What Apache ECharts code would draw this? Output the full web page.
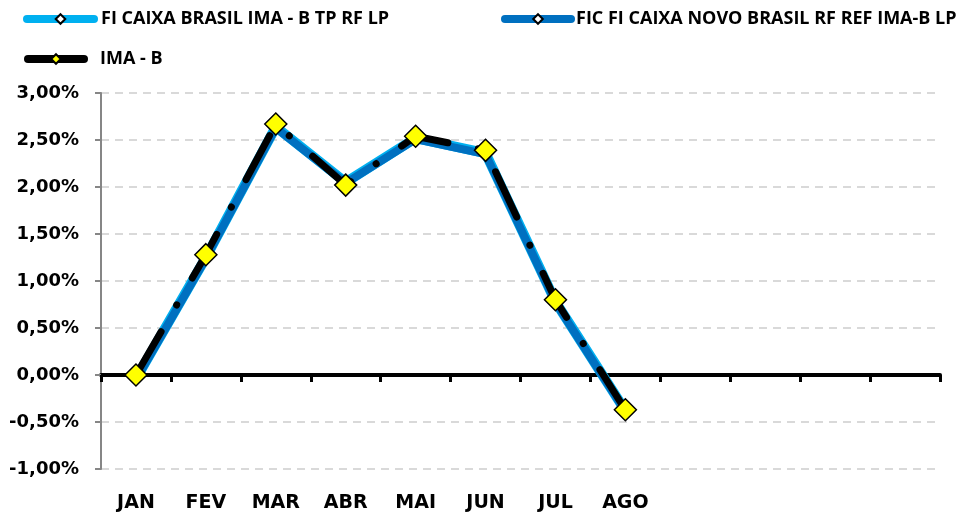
<!DOCTYPE html>
<html>
<head>
    <meta charset="utf-8">
    <title>IMA-B</title>
    <script src="https://cdn.jsdelivr.net/npm/echarts@6/dist/echarts.min.js"></script>
    <style>
        html, body { margin: 0; padding: 0; width: 100%; height: 100%; background: #fff; }
        #chart { width: 964px; height: 515px; }
    </style>
</head>
<body>
    <div id="chart"></div>
    <script>
        // dados (% ao mês)
        const months = ['JAN', 'FEV', 'MAR', 'ABR', 'MAI', 'JUN', 'JUL', 'AGO', 'SET', 'OUT', 'NOV', 'DEZ'];
        const fiCaixaBrasil = [-0.04, 1.25, 2.64, 2.05, 2.52, 2.36, 0.78, -0.38];
        const ficNovoBrasil = [-0.05, 1.24, 2.63, 2.04, 2.51, 2.35, 0.77, -0.39];
        const imaB = [0.00, 1.28, 2.67, 2.02, 2.54, 2.39, 0.80, -0.37];
        const names = ['FI CAIXA BRASIL IMA - B TP RF LP', 'FIC FI CAIXA NOVO BRASIL RF REF IMA-B LP', 'IMA - B'];

        const chart = echarts.init(document.getElementById('chart'), null, { renderer: 'canvas' });

        const font = '"Open Sans", Lato, sans-serif';
        const axisFont = '"DejaVu Sans", "Open Sans", sans-serif';
        const fmt = (v) => v.toFixed(2).replace('.', ',') + '%';
        const legendText = { fontSize: 18, fontWeight: 'bold', color: '#000', fontFamily: font };

        const option = {
            animation: false,
            textStyle: { fontFamily: font },
            legend: [{
                left: 23,
                top: 10,
                padding: 0,
                itemWidth: 67,
                itemHeight: 12,
                data: [{ name: names[0], lineStyle: { width: 8, cap: 'round' } }],
                textStyle: Object.assign({ padding: [0, 0, 0, 2] }, legendText)
            }, {
                left: 501,
                top: 10,
                padding: 0,
                itemWidth: 66,
                itemHeight: 12,
                data: [{ name: names[1], lineStyle: { width: 8, cap: 'round' } }],
                textStyle: legendText
            }, {
                left: 24,
                top: 50,
                padding: 0,
                itemWidth: 56,
                itemHeight: 12,
                data: [{ name: names[2], lineStyle: { width: 8, type: 'solid', cap: 'round' } }],
                textStyle: Object.assign({ padding: [0, 0, 0, 11] }, legendText)
            }],
            grid: { left: 101, right: 24, top: 93, bottom: 46, containLabel: false, outerBoundsMode: 'none' },
            xAxis: [{
                type: 'category',
                data: months,
                boundaryGap: true,
                axisLine: { onZero: true, lineStyle: { color: '#000', width: 4 } },
                axisTick: { show: true, length: 7, lineStyle: { color: '#000', width: 3 } },
                axisLabel: { show: false },
                splitLine: { show: false }
            }, {
                // rótulos dos meses no rodapé
                type: 'category',
                data: months,
                position: 'bottom',
                boundaryGap: true,
                axisLine: { show: false, onZero: false },
                axisTick: { show: false },
                axisLabel: {
                    margin: 25,
                    color: '#000',
                    fontSize: 19,
                    fontWeight: 'bold',
                    fontFamily: axisFont,
                    formatter: (v, i) => i < imaB.length ? v : ''
                },
                splitLine: { show: false }
            }],
            yAxis: {
                type: 'value',
                min: -1,
                max: 3,
                interval: 0.5,
                axisLine: { show: true, lineStyle: { color: '#868686', width: 2 } },
                axisTick: { show: true, length: 6, lineStyle: { color: '#868686', width: 2 } },
                axisLabel: {
                    margin: 22,
                    color: '#000',
                    fontSize: 18,
                    fontWeight: 'bold',
                    fontFamily: axisFont,
                    formatter: fmt
                },
                splitLine: { lineStyle: { color: '#d9d9d9', width: 2, type: [8, 6] } }
            },
            series: [{
                name: names[0],
                type: 'line',
                data: fiCaixaBrasil,
                symbol: 'diamond',
                symbolSize: 10,
                lineStyle: { color: '#00b0f0', width: 10, cap: 'round' },
                itemStyle: { color: '#fff', borderColor: '#000', borderWidth: 1.5 },
                z: 2
            }, {
                name: names[1],
                type: 'line',
                data: ficNovoBrasil,
                symbol: 'diamond',
                symbolSize: 10,
                lineStyle: { color: '#0070c0', width: 8, cap: 'round' },
                itemStyle: { color: '#fff', borderColor: '#000', borderWidth: 1.5 },
                z: 3
            }, {
                name: names[2],
                type: 'line',
                data: imaB,
                symbol: 'diamond',
                symbolSize: 22,
                lineStyle: { color: '#000', width: 7, type: [50, 31, 0.1, 31], cap: 'round' },
                itemStyle: { color: '#ffff00', borderColor: '#000', borderWidth: 1.5 },
                z: 4
            }]
        };

        chart.setOption(option);
    </script>
</body>
</html>
